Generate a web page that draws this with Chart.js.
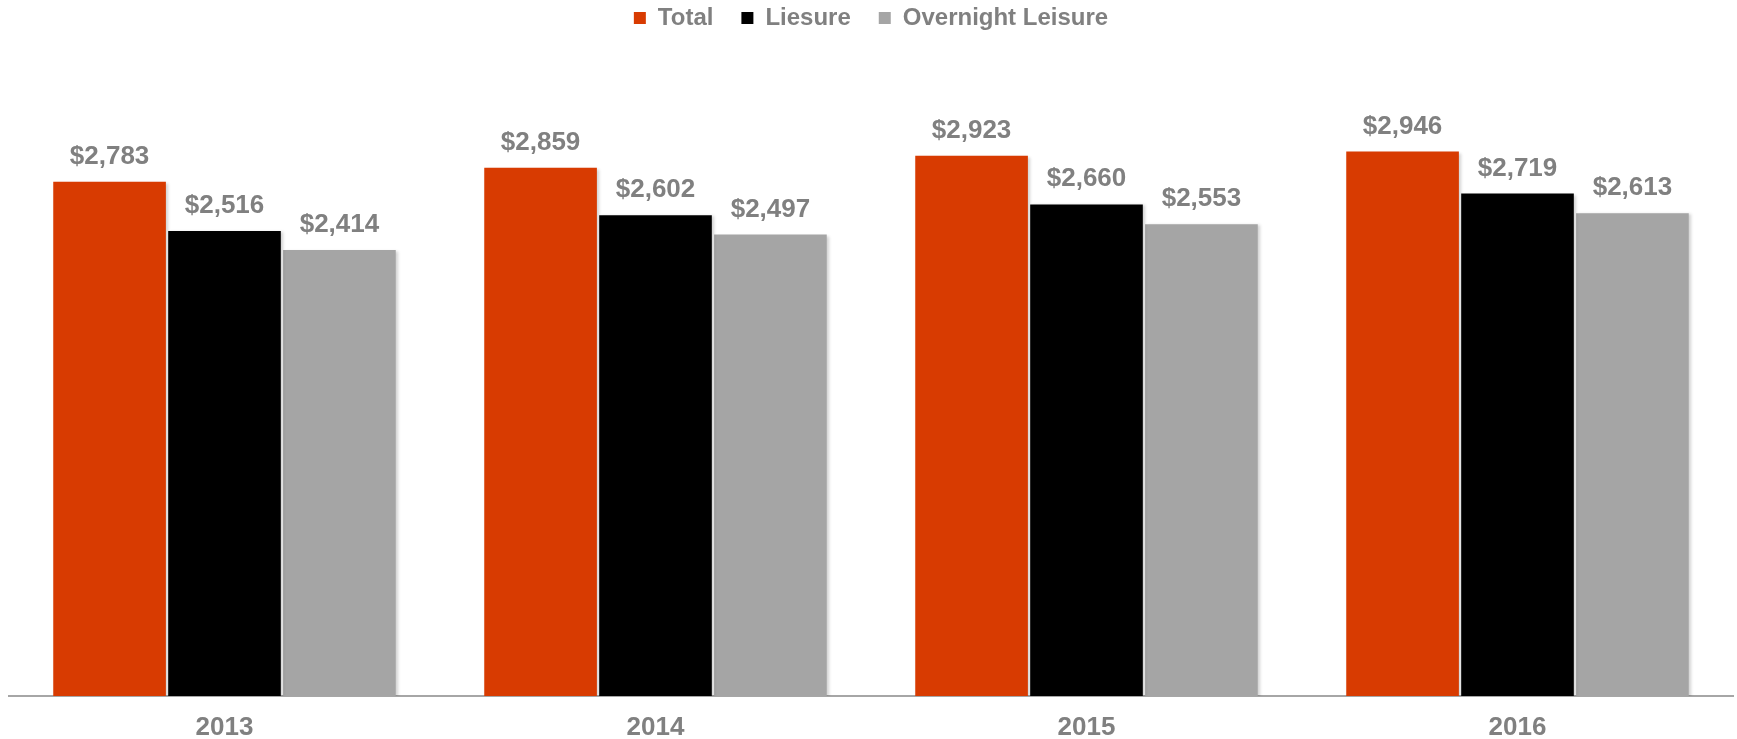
<!DOCTYPE html>
<html>
<head>
<meta charset="utf-8">
<script src="https://cdn.jsdelivr.net/npm/chart.js@4"></script>
<style>
	body { margin: 0; background: #fff; }
	#wrap { width: 1737px; height: 739px; }
</style>
</head>
<body>
<div id="wrap"><canvas id="chart" width="1737" height="739"></canvas></div>
<script>
const years = ["2013", "2014", "2015", "2016"];
const total = [2783, 2859, 2923, 2946];
const leisure = [2516, 2602, 2660, 2719];
const overnightLeisure = [2414, 2497, 2553, 2613];

const fontFamily = '"Liberation Sans", Arial, sans-serif';
const textGray = "#808080";

// value labels above each bar
const valueLabels = {
	id: "valueLabels",
	afterDatasetsDraw(chart) {
		const { ctx } = chart;
		ctx.save();
		ctx.shadowColor = "transparent";
		ctx.font = `bold 26px ${fontFamily}`;
		ctx.fillStyle = textGray;
		ctx.textAlign = "center";
		ctx.textBaseline = "alphabetic";
		chart.data.datasets.forEach((ds, i) => {
			chart.getDatasetMeta(i).data.forEach((bar, j) => {
				const label = "$" + ds.data[j].toLocaleString("en-US");
				ctx.fillText(label, bar.x, bar.y - 18);
			});
		});
		ctx.restore();
	},
};

// faint shadow on the bars
const barShadow = {
	id: "barShadow",
	beforeDatasetsDraw(chart) {
		const { ctx } = chart;
		ctx.save();
		ctx.shadowColor = "rgba(0,0,0,0.18)";
		ctx.shadowBlur = 3;
		ctx.shadowOffsetX = 2;
		ctx.shadowOffsetY = 1;
	},
	afterDatasetsDraw(chart) {
		chart.ctx.restore();
	},
};

new Chart(document.getElementById("chart"), {
	type: "bar",
	data: {
		labels: years,
		datasets: [
			{ label: "Total", data: total, backgroundColor: "#D83B01" },
			{ label: "Liesure", data: leisure, backgroundColor: "#000000" },
			{ label: "Overnight Leisure", data: overnightLeisure, backgroundColor: "#A5A5A5" },
		],
	},
	options: {
		responsive: false,
		animation: false,
		layout: { padding: { top: -22, left: 9, right: 4, bottom: -21 } },
		datasets: {
			bar: { categoryPercentage: 0.8, barPercentage: 0.98 },
		},
		plugins: {
			legend: {
				position: "top",
				labels: {
					boxWidth: 12,
					boxHeight: 12,
					padding: 28,
					color: textGray,
					font: { family: fontFamily, size: 24, weight: "bold" },
				},
			},
			tooltip: { enabled: false },
		},
		scales: {
			x: {
				grid: { display: false, drawTicks: false },
				border: { display: true, color: "#A6A6A6", width: 2 },
				ticks: {
					padding: 19,
					color: textGray,
					font: { family: fontFamily, size: 26, weight: "bold", lineHeight: 1 },
				},
			},
			y: { display: false, min: 0, max: 3550 },
		},
	},
	plugins: [barShadow, valueLabels],
});
</script>
</body>
</html>
